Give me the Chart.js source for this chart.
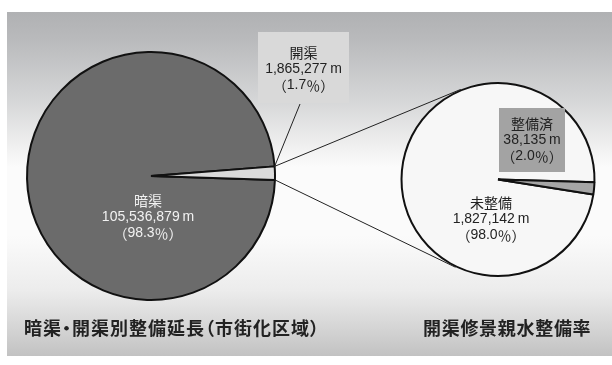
<!DOCTYPE html>
<html>
<head>
<meta charset="utf-8">
<script src="https://cdn.jsdelivr.net/npm/chart.js@4.4.0/dist/chart.umd.min.js"></script>
<style>
  body { margin: 0; background: #fff; }
  #wrap { position: relative; width: 612px; height: 365px; overflow: hidden; }
  #bg {
    position: absolute; left: 7px; top: 12px; width: 605px; height: 344px;
    background: linear-gradient(to bottom, #b0b1b3 0%, #b9babc 8%, #d6d7d8 26%, #ececec 37%,
      #fbfbfb 45%, #fbfbfb 65%, #ececec 81%, #d2d2d2 93%, #c2c2c2 100%);
  }
  canvas { position: absolute; left: 0; top: 0; }
  .title {
    position: absolute; top: 315px; line-height: 24px; white-space: nowrap;
    font-family: "Noto Sans CJK JP", sans-serif; font-size: 18px; font-weight: bold; color: #222;
  }
</style>
</head>
<body>
<div id="wrap">
  <div id="bg"></div>
  <canvas id="mainChart" width="612" height="365"></canvas>
  <canvas id="detailChart" width="612" height="365"></canvas>
  <div class="title" style="left:24px; letter-spacing:1px; font-feature-settings:'palt'">暗渠・開渠別整備延長（市街化区域）</div>
  <div class="title" style="left:423px; letter-spacing:0.7px">開渠修景親水整備率</div>
</div>
<script>
// 暗渠・開渠 (市街化区域)
const mainLabels = ['暗渠', '開渠'];
const mainValues = [105536879, 1865277];
// 開渠のうち修景親水整備
const detailLabels = ['未整備', '整備済'];
const detailValues = [1827142, 38135];

const LATIN = '14px "Liberation Sans", sans-serif';
const CJK = '14px "Noto Sans CJK JP", sans-serif';

function labelLines(labels, values, i) {
    const total = values.reduce((a, b) => a + b, 0);
    const pct = (values[i] / total * 100).toFixed(1);
    return [labels[i], values[i].toLocaleString('en-US') + '\u2009m', '（' + pct + '％）'];
}

// split a line into latin / full-width runs so each gets its own font
function runs(text) {
    const out = [];
    for (const ch of text) {
        const wide = ch.charCodeAt(0) >= 0x3000;
        const last = out[out.length - 1];
        if (last && last.wide === wide) last.text += ch;
        else out.push({ text: ch, wide: wide });
    }
    return out;
}

function fillMixed(ctx, text, cx, y) {
    const parts = runs(text);
    let total = 0;
    parts.forEach(p => {
        ctx.font = p.wide ? CJK : LATIN;
        p.w = ctx.measureText(p.text).width;
        total += p.w;
    });
    let x = cx - total / 2;
    parts.forEach(p => {
        ctx.font = p.wide ? CJK : LATIN;
        ctx.fillText(p.text, x, y);
        x += p.w;
    });
}

function drawLabel(ctx, lines, x, y, color, box) {
    ctx.save();
    if (box) {
        ctx.fillStyle = box.fill;
        ctx.fillRect(box.x, box.y, box.w, box.h);
    }
    ctx.fillStyle = color;
    ctx.textAlign = 'left';
    ctx.textBaseline = 'middle';
    lines.forEach((t, k) => fillMixed(ctx, t, x, y + (k - 1) * 16.5));
    ctx.restore();
}

// slice labels, boxes and the leader line
const sliceLabels = {
    id: 'sliceLabels',
    afterDatasetsDraw(chart, args, opts) {
        const ctx = chart.ctx;
        const labels = chart.data.labels;
        const values = chart.data.datasets[0].data;
        opts.items.forEach(item => {
            if (item.leader) {
                const arc = chart.getDatasetMeta(0).data[item.index];
                ctx.save();
                ctx.strokeStyle = '#222';
                ctx.lineWidth = 1;
                ctx.beginPath();
                ctx.moveTo(item.leader[0], item.leader[1]);
                ctx.lineTo(arc.x + arc.outerRadius * Math.cos(arc.startAngle),
                           arc.y + arc.outerRadius * Math.sin(arc.startAngle));
                ctx.stroke();
                ctx.restore();
            }
            drawLabel(ctx, labelLines(labels, values, item.index), item.x, item.y, item.color, item.box);
        });
    }
};

// the two lines tying the small slice to the detail pie
const zoomLines = {
    id: 'zoomLines',
    beforeDatasetsDraw(chart) {
        const src = mainChart.getDatasetMeta(0).data[1];
        const dst = chart.getDatasetMeta(0).data[0];
        const R = src.outerRadius, r = dst.outerRadius + 1;
        const ctx = chart.ctx;
        ctx.save();
        ctx.strokeStyle = '#222';
        ctx.lineWidth = 1;
        [[src.startAngle, 1], [src.endAngle, -1]].forEach(([a, side]) => {
            const px = src.x + R * Math.cos(a);
            const py = src.y + R * Math.sin(a);
            const d = Math.hypot(px - dst.x, py - dst.y);
            const phi = Math.atan2(py - dst.y, px - dst.x);
            const t = phi + side * Math.acos(r / d);
            ctx.beginPath();
            ctx.moveTo(px, py);
            ctx.lineTo(dst.x + r * Math.cos(t), dst.y + r * Math.sin(t));
            ctx.stroke();
        });
        ctx.restore();
    }
};

const mainChart = new Chart(document.getElementById('mainChart'), {
    type: 'pie',
    data: {
        labels: mainLabels,
        datasets: [{
            data: mainValues,
            backgroundColor: ['#6b6b6b', '#dadada'],
            borderColor: '#111',
            borderWidth: 2
        }]
    },
    options: {
        responsive: false,
        animation: false,
        rotation: 91.8,
        layout: { padding: { left: 26, right: 336, top: 51, bottom: 64 } },
        plugins: {
            legend: { display: false },
            tooltip: { enabled: false },
            sliceLabels: {
                items: [
                    { index: 0, x: 148, y: 217, color: '#f2f2f2' },
                    { index: 1, x: 303.5, y: 69, color: '#222',
                      box: { x: 258, y: 32, w: 91, h: 71, fill: '#d9d9d9' }, leader: [300, 104] }
                ]
            }
        }
    },
    plugins: [sliceLabels]
});

const detailChart = new Chart(document.getElementById('detailChart'), {
    type: 'pie',
    data: {
        labels: detailLabels,
        datasets: [{
            data: detailValues,
            backgroundColor: ['#f7f7f7', '#a6a6a6'],
            borderColor: '#111',
            borderWidth: 2
        }]
    },
    options: {
        responsive: false,
        animation: false,
        rotation: 99,
        layout: { padding: { left: 400, right: 16, top: 82, bottom: 88 } },
        plugins: {
            legend: { display: false },
            tooltip: { enabled: false },
            sliceLabels: {
                items: [
                    { index: 0, x: 491, y: 219, color: '#222' },
                    { index: 1, x: 532, y: 140, color: '#222',
                      box: { x: 499, y: 108, w: 66, h: 64, fill: '#a3a3a3' } }
                ]
            }
        }
    },
    plugins: [zoomLines, sliceLabels]
});
</script>
</body>
</html>
